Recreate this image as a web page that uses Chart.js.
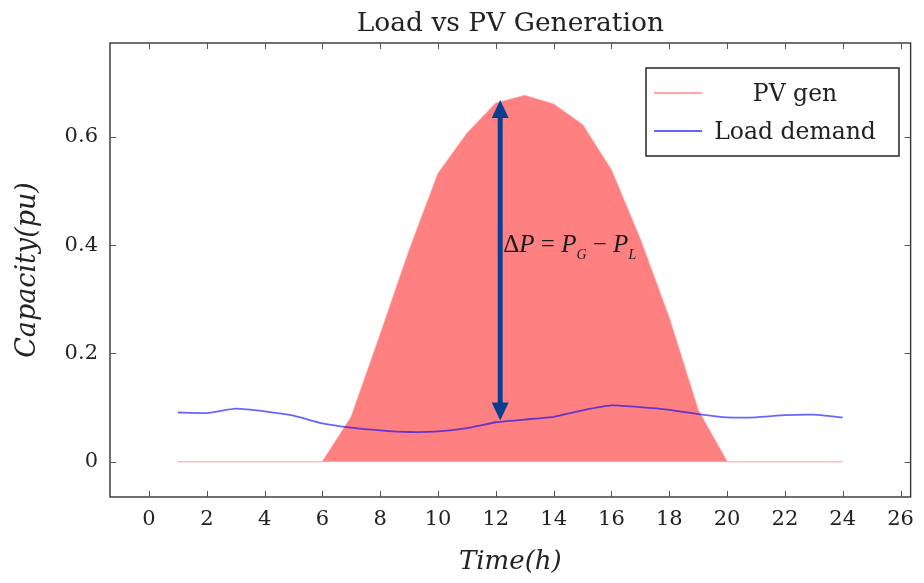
<!DOCTYPE html>
<html>
<head>
<meta charset="utf-8">
<script src="https://cdn.jsdelivr.net/npm/chart.js@4.4.1/dist/chart.umd.min.js"></script>
<style>
  html, body { margin: 0; padding: 0; background: #ffffff; }
  canvas { display: block; }
</style>
</head>
<body>
<canvas id="chart" width="924" height="583"></canvas>
<script>
// Hourly profile, 1..24 h
const hours = [1, 2, 3, 4, 5, 6, 7, 8, 9, 10, 11, 12, 13, 14, 15, 16, 17, 18, 19, 20, 21, 22, 23, 24];
const pvGen = [0, 0, 0, 0, 0, 0, 0.083, 0.235, 0.39, 0.532, 0.606, 0.662, 0.676, 0.66, 0.622, 0.538, 0.41, 0.265, 0.095, 0, 0, 0, 0, 0];
const loadDemand = [0.091, 0.090, 0.098, 0.093, 0.085, 0.071, 0.063, 0.058, 0.055, 0.056, 0.062, 0.073, 0.078, 0.083, 0.095, 0.104, 0.101, 0.096, 0.088, 0.082, 0.082, 0.086, 0.087, 0.082];

const seriesLabels = ['PV gen', 'Load demand'];
const xTickValues = [0, 2, 4, 6, 8, 10, 12, 14, 16, 18, 20, 22, 24, 26];
const yTickValues = [0, 0.2, 0.4, 0.6];
const yTickLabels = ['0', '0.2', '0.4', '0.6'];

const chartTitle = 'Load vs PV Generation';
const xAxisTitle = 'Time(h)';
const yAxisTitle = 'Capacity(pu)';

// Power-gap marker: hour, and the span from load to generation
const deltaHour = [12.15];
const deltaSpan = [0.076, 0.668];

const SERIF = '"DejaVu Serif", "Liberation Serif", serif';
const INK = '#333333';

const toXY = (vals) => vals.map((v, i) => ({ x: hours[i], y: v }));

// Frame, inward tick marks, title, legend and the ΔP annotation
const decorations = {
  id: 'decorations',
  afterDatasetsDraw(chart) {
    const { ctx, chartArea: a, scales: { x, y } } = chart;
    ctx.save();

    // ΔP double arrow
    const ax = x.getPixelForValue(deltaHour[0]);
    const yTop = y.getPixelForValue(deltaSpan[1]);
    const yBot = y.getPixelForValue(deltaSpan[0]);
    const headL = 18, headW = 8.5;
    ctx.strokeStyle = '#0b3d91';
    ctx.fillStyle = '#0b3d91';
    ctx.lineWidth = 5;
    ctx.beginPath();
    ctx.moveTo(ax, yTop + headL - 2);
    ctx.lineTo(ax, yBot - headL + 2);
    ctx.stroke();
    ctx.beginPath();
    ctx.moveTo(ax, yTop);
    ctx.lineTo(ax - headW, yTop + headL);
    ctx.lineTo(ax + headW, yTop + headL);
    ctx.closePath();
    ctx.fill();
    ctx.beginPath();
    ctx.moveTo(ax, yBot);
    ctx.lineTo(ax - headW, yBot - headL);
    ctx.lineTo(ax + headW, yBot - headL);
    ctx.closePath();
    ctx.fill();

    // ΔP = P_G − P_L
    const baseY = y.getPixelForValue(0.387);
    let tx = ax + 3;
    const up = '25px "Liberation Serif", serif';
    const it = 'italic 25px "Liberation Serif", serif';
    const sub = 'italic 14px "Liberation Serif", serif';
    const parts = [
      ['\u0394', up, 0], ['P', it, 0], [' = ', up, 0], ['P', it, 0], ['G', sub, 7],
      [' \u2212 ', up, 0], ['P', it, 0], ['L', sub, 7]
    ];
    ctx.fillStyle = '#1a1a1a';
    ctx.textBaseline = 'alphabetic';
    ctx.textAlign = 'left';
    for (const [t, f, dy] of parts) {
      ctx.font = f;
      ctx.fillText(t, tx, baseY + dy);
      tx += ctx.measureText(t).width;
    }

    // plot frame
    ctx.strokeStyle = INK;
    ctx.lineWidth = 1.4;
    ctx.strokeRect(a.left, a.top, a.right - a.left, a.bottom - a.top);

    // inward ticks on all four sides
    const tl = 6;
    ctx.lineWidth = 1;
    ctx.strokeStyle = '#555555';
    ctx.beginPath();
    for (const v of xTickValues) {
      const px = Math.round(x.getPixelForValue(v)) + 0.5;
      ctx.moveTo(px, a.bottom); ctx.lineTo(px, a.bottom - tl);
      ctx.moveTo(px, a.top); ctx.lineTo(px, a.top + tl);
    }
    for (const v of yTickValues) {
      const py = Math.round(y.getPixelForValue(v)) + 0.5;
      ctx.moveTo(a.left, py); ctx.lineTo(a.left + tl, py);
      ctx.moveTo(a.right, py); ctx.lineTo(a.right - tl, py);
    }
    ctx.stroke();

    // title
    ctx.fillStyle = '#222222';
    ctx.font = '26.5px ' + SERIF;
    ctx.textAlign = 'center';
    ctx.textBaseline = 'alphabetic';
    ctx.fillText(chartTitle, (a.left + a.right) / 2, 31);

    // legend box
    const lx = 646, ly = 68, lw = 253, lh = 88;
    ctx.fillStyle = '#ffffff';
    ctx.fillRect(lx, ly, lw, lh);
    ctx.strokeStyle = INK;
    ctx.lineWidth = 1.6;
    ctx.strokeRect(lx, ly, lw, lh);
    const rows = [93, 131];
    chart.data.datasets.forEach((ds, i) => {
      ctx.strokeStyle = ds.legendColor;
      ctx.lineWidth = 2.2;
      ctx.beginPath();
      ctx.moveTo(654, rows[i]);
      ctx.lineTo(702, rows[i]);
      ctx.stroke();
      ctx.fillStyle = '#222222';
      ctx.font = '23.5px ' + SERIF;
      ctx.textAlign = 'center';
      ctx.fillText(ds.label, 795, rows[i] + 8);
    });

    ctx.restore();
  }
};

new Chart(document.getElementById('chart'), {
  type: 'line',
  data: {
    datasets: [
      {
        label: seriesLabels[0],
        data: toXY(pvGen),
        borderColor: 'rgba(255,128,128,0.5)',
        legendColor: '#ffa6a6',
        backgroundColor: '#ff8080',
        borderWidth: 1.6,
        fill: 'origin',
        pointRadius: 0,
        tension: 0,
        order: 2
      },
      {
        label: seriesLabels[1],
        data: toXY(loadDemand),
        borderColor: 'rgba(0,0,255,0.6)',
        legendColor: '#6464ff',
        borderWidth: 1.8,
        fill: false,
        pointRadius: 0,
        tension: 0.15,
        order: 1
      }
    ]
  },
  options: {
    responsive: false,
    animation: false,
    events: [],
    layout: { padding: { top: 43, right: 11, left: 0, bottom: 0 } },
    plugins: {
      legend: { display: false },
      title: { display: false },
      tooltip: { enabled: false }
    },
    scales: {
      x: {
        type: 'linear',
        min: -1.35,
        max: 26.35,
        grid: { display: false, drawTicks: false },
        border: { display: false },
        afterBuildTicks: (s) => { s.ticks = xTickValues.map(v => ({ value: v })); },
        afterFit: (s) => { s.height = 86; },
        ticks: {
          color: '#222222',
          font: { family: SERIF, size: 21 },
          padding: 10,
          maxRotation: 0,
          autoSkip: false
        },
        title: {
          display: true,
          text: xAxisTitle,
          color: '#222222',
          font: { family: SERIF, size: 26, style: 'italic' },
          padding: { top: 0, bottom: 5 }
        }
      },
      y: {
        min: -0.065,
        max: 0.773,
        grid: { display: false, drawTicks: false },
        border: { display: false },
        afterBuildTicks: (s) => { s.ticks = yTickValues.map(v => ({ value: v })); },
        afterFit: (s) => { s.width = 110; },
        ticks: {
          color: '#222222',
          font: { family: SERIF, size: 21 },
          padding: 12,
          callback: (v) => yTickLabels[yTickValues.indexOf(v)]
        },
        title: {
          display: true,
          text: yAxisTitle,
          color: '#222222',
          font: { family: SERIF, size: 27, style: 'italic' },
          padding: { top: 12, bottom: 0 }
        }
      }
    }
  },
  plugins: [decorations]
});
</script>
</body>
</html>
